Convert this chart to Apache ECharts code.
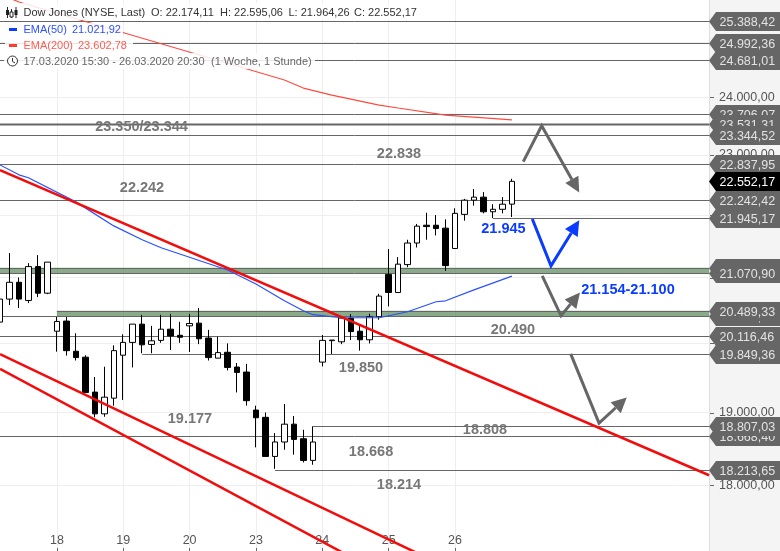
<!DOCTYPE html>
<html>
<head>
<meta charset="utf-8">
<style>
  html, body { margin: 0; padding: 0; background: #fff; }
  #c1 { width: 780px; height: 551px; }
</style>
<script src="https://cdn.jsdelivr.net/npm/echarts@6/dist/echarts.min.js"></script>
</head>
<body>
<div id="c1"></div>
<script>
// hourly candles: open, close, low, high
const candles = [
  [20318, 20667, 20250, 20700], [20667, 20926, 20576, 21384], [20926, 20667, 20530, 21000],
  [20646, 21171, 20606, 21225], [21171, 20758, 20698, 21352], [20758, 21241, 20743, 21241],
  [20181, 20327, 19877, 20394], [20333, 19892, 19819, 20394], [19883, 19790, 19747, 20150],
  [19796, 19285, 19276, 19825], [19290, 18982, 18933, 19507], [18982, 19218, 18941, 19656],
  [19204, 19892, 19097, 19970], [19825, 20014, 19179, 20135], [20014, 20287, 19646, 20287],
  [20287, 19978, 19854, 20429], [19984, 20038, 19854, 20261], [20044, 20211, 20008, 20429],
  [20211, 20109, 19902, 20444], [20120, 20090, 20008, 20322], [20261, 20296, 19873, 20444],
  [20302, 20068, 19988, 20530], [20079, 19790, 19747, 20201], [19782, 19863, 19782, 20099],
  [19868, 19646, 19603, 19999], [19652, 19574, 19285, 19710], [19579, 19168, 19097, 19699],
  [19035, 18927, 18516, 19097], [18933, 18392, 18392, 19001], [18392, 18590, 18224, 18713],
  [18590, 18837, 18484, 19121], [18837, 18626, 18416, 18951], [18635, 18338, 18310, 18759],
  [18338, 18590, 18279, 18807], [19724, 20044, 19660, 20125], [20040, 20049, 19844, 20049],
  [20023, 20378, 19988, 20403], [20378, 20175, 20049, 20439], [20181, 20053, 19892, 20277],
  [20053, 20398, 19999, 20444], [20398, 20713, 20353, 20748], [21049, 20768, 20555, 21448],
  [20768, 21209, 20768, 21320], [21202, 21544, 21161, 21596], [21544, 21815, 21473, 21851],
  [21830, 21808, 21596, 22033], [21830, 21776, 21665, 21995], [21783, 21186, 21102, 21926],
  [21457, 22023, 21448, 22106], [22006, 22239, 21904, 22261], [22239, 22289, 22149, 22423],
  [22289, 22049, 22023, 22373], [22049, 22089, 21945, 22173], [22089, 22173, 22023, 22289],
  [22174, 22552, 21964, 22595]
]
const dayNames = ['18', '19', '20', '23', '24', '25', '26']

const ema50Bars = [0, 2, 3, 8, 12, 15, 17, 24, 27, 30, 32, 33, 36, 40, 43, 46, 47, 50, 54]
const ema50Vals = [22828, 22661, 22611, 22211, 21819, 21596, 21469, 21118, 20900, 20641, 20489, 20429, 20383, 20383, 20474, 20626, 20641, 20809, 21022]
const ema200Bars = [1, 2, 16, 25, 30, 32, 35, 40, 42, 47, 54]
const ema200Vals = [25834, 25757, 25023, 24564, 24310, 24166, 24041, 23863, 23811, 23687, 23603]

// channel lines, [bar, price]
const channelTop = [[0, 22740], [74.8, 18137]]
const channelMid = [[0, 19840], [44, 17121]]
const channelLow = [[0, 19625], [36, 17136]]

// horizontal levels, later ones lie on top of earlier tags
const levelPrices = [25388.42, 24992.36, 24681.01, 23706.07, 23531.31, 23344.52, 22837.95, 22242.42, 22552.17, 21945.17, 21154.16, 21070.9, 20410.55, 20489.33, 20116.46, 19849.36, 18668.4, 18807.03, 18213.65]
const levelLabels = ['25.388,42', '24.992,36', '24.681,01', '23.706,07', '23.531,31', '23.344,52', '22.837,95', '22.242,42', '22.552,17', '21.945,17', '21.154,16', '21.070,90', '20.410,55', '20.489,33', '20.116,46', '19.849,36', '18.668,40', '18.807,03', '18.213,65']
const levelStarts = [0, 0, 0, 0, 0, 0, 0, 0, null, 52, 0, 0, 0, 6, 0, 15, 0, 33, 29]

const bandTops = [21154.16, 20489.33]
const bandBottoms = [21070.9, 20410.55]
const bandStarts = [0, 6]

const noteTexts = ['23.350/23.344', '22.838', '22.242', '21.945', '21.154-21.100', '20.490', '19.850', '19.177', '18.808', '18.668', '18.214']
const noteBars = [14.93, 42.09, 14.98, 53.11, 66.24, 54.11, 38.08, 20.04, 51.16, 39.14, 42.09]
const notePrices = [23512, 23046, 22461, 21787, 20824, 20216, 19656, 18937, 18772, 18471, 18032]
const noteBlue = [false, false, false, true, true, false, false, false, false, false, false]

const arrowPaths = [
  [[55.2, 22883], [57.14, 23500], [61.1, 22366]],
  [[56.15, 21931], [58.12, 21182], [61.1, 21910]],
  [[57.2, 21027], [59.18, 20413], [61.18, 20768]],
  [[60.2, 19844], [63.19, 18851], [66.11, 19212]]
]
const arrowBlue = [false, true, false, false]

const yTicks = [18000, 19000, 20000, 21000, 22000, 23000, 24000, 25000]
const yTickLabels = ['18.000,00', '19.000,00', '20.000,00', '21.000,00', '22.000,00', '23.000,00', '24.000,00', '25.000,00']

const GREY = '#666'
const BLUE = '#0a3cff'
const PANEL_X = 709
const FIRST_DAY_BAR = 6
const BARS_PER_DAY = 7

const categories = []
for (let i = 0; i < 76; i++) {
  const d = (i - FIRST_DAY_BAR) / BARS_PER_DAY
  categories.push(Number.isInteger(d) && dayNames[d] ? dayNames[d] : '')
}
const isDayBar = (i) => categories[i] !== ''

const chart = echarts.init(document.getElementById('c1'))

function pair(bars, vals) {
  return bars.map((b, i) => [b, vals[i]])
}

function renderBand(params, api) {
  const i = params.dataIndex
  const top = api.coord([bandStarts[i], bandTops[i]])
  const bottom = api.coord([bandStarts[i], bandBottoms[i]])
  return {
    type: 'rect',
    shape: { x: top[0], y: top[1], width: PANEL_X - top[0], height: bottom[1] - top[1] },
    style: { fill: 'rgba(60,115,60,0.6)' }
  }
}

// small scale ticks inside the right panel
function renderTick(params, api) {
  const y = Math.round(api.coord([0, yTicks[params.dataIndex]])[1]) + 0.5
  return {
    type: 'line',
    shape: { x1: PANEL_X + 1, y1: y, x2: PANEL_X + 5, y2: y },
    style: { stroke: GREY, lineWidth: 1 }
  }
}

function renderLevel(params, api) {
  const i = params.dataIndex
  const y = Math.round(api.coord([0, levelPrices[i]])[1])
  const isLast = levelStarts[i] === null
  const children = []
  if (!isLast) {
    const x0 = api.coord([levelStarts[i], levelPrices[i]])[0]
    const thick = levelPrices[i] === 23531.31
    children.push({
      type: 'line',
      shape: { x1: x0, y1: y + 0.5, x2: PANEL_X, y2: y + 0.5 },
      style: { stroke: GREY, lineWidth: thick ? 2 : 1 }
    })
  }
  // tag with its point towards the chart
  children.push({
    type: 'polygon',
    shape: { points: [[PANEL_X, y + 0.5], [716, y - 9], [780, y - 9], [780, y + 10], [716, y + 10]] },
    style: { fill: isLast ? '#000' : '#666' }
  })
  children.push({
    type: 'text',
    style: {
      text: levelLabels[i],
      x: 719.5,
      y: y + 2,
      fill: isLast ? '#fff' : '#e2e2e2',
      font: '12.5px "Liberation Sans"',
      align: 'left',
      verticalAlign: 'middle'
    }
  })
  return { type: 'group', children }
}

function renderNote(params, api) {
  const i = params.dataIndex
  const p = api.coord([noteBars[i], notePrices[i]])
  return {
    type: 'text',
    style: {
      text: noteTexts[i],
      x: p[0],
      y: p[1] + 1.5,
      fill: noteBlue[i] ? BLUE : '#777',
      font: 'bold 14.5px "Liberation Sans"',
      align: 'center',
      verticalAlign: 'middle'
    }
  }
}

function renderArrow(params, api) {
  const i = params.dataIndex
  const pts = arrowPaths[i].map((p) => api.coord(p))
  const color = arrowBlue[i] ? BLUE : GREY
  const tip = pts[pts.length - 1]
  const prev = pts[pts.length - 2]
  const len = Math.hypot(tip[0] - prev[0], tip[1] - prev[1])
  const ux = (tip[0] - prev[0]) / len
  const uy = (tip[1] - prev[1]) / len
  const headLen = 15
  const headHalf = 7.5
  const bx = tip[0] - ux * headLen
  const by = tip[1] - uy * headLen
  return {
    type: 'group',
    children: [
      {
        type: 'polyline',
        shape: { points: pts.slice(0, -1).concat([[bx, by]]) },
        style: { stroke: color, lineWidth: 3, fill: null }
      },
      {
        type: 'polygon',
        shape: { points: [tip, [bx - uy * headHalf, by + ux * headHalf], [bx + uy * headHalf, by - ux * headHalf]] },
        style: { fill: color }
      }
    ]
  }
}

function channel(data) {
  return {
    type: 'line',
    xAxisIndex: 1,
    data,
    symbol: 'none',
    silent: true,
    lineStyle: { color: '#f20d0d', width: 2.5 }
  }
}

function legendText(text, x, y, fill) {
  return {
    type: 'text',
    z: 101,
    silent: true,
    style: { text, x, y, fill, font: '11px "Liberation Sans"', align: 'left', verticalAlign: 'middle' }
  }
}

function legendCover(x, y, width, height) {
  return {
    type: 'rect',
    z: 100,
    silent: true,
    shape: { x, y, width, height },
    style: { fill: 'rgba(255,255,255,0.85)' }
  }
}

function iconRect(x, y, width, height, fill, stroke) {
  return {
    type: 'rect',
    z: 101,
    silent: true,
    shape: { x, y, width, height },
    style: { fill, stroke: stroke || null, lineWidth: 1 }
  }
}

const option = {
  animation: false,
  grid: { left: 0, top: 0, width: 711, bottom: 0, outerBoundsMode: 'none' },
  xAxis: [
    {
      type: 'category',
      data: categories,
      boundaryGap: false,
      axisLine: { show: false },
      axisTick: { inside: true, length: 3, interval: (i) => isDayBar(i), lineStyle: { color: '#666' } },
      axisLabel: {
        inside: true,
        interval: 0,
        margin: 4,
        color: '#555',
        fontFamily: 'Liberation Sans',
        fontSize: 12.5
      },
      splitLine: { show: true, interval: (i) => isDayBar(i), lineStyle: { color: '#eee' } }
    },
    { type: 'value', min: 0, max: 75, show: false, splitLine: { show: false } }
  ],
  yAxis: {
    type: 'log',
    position: 'right',
    min: 17147,
    max: 25796,
    axisLine: { show: false },
    axisTick: { show: false, customValues: yTicks },
    axisLabel: {
      customValues: yTicks,
      margin: 8,
      padding: [2, 0, 0, 0],
      color: '#555',
      fontFamily: 'Liberation Sans',
      fontSize: 12.5,
      formatter: (v) => yTickLabels[yTicks.indexOf(Math.round(v))]
    },
    splitLine: { show: true, lineStyle: { color: '#eee' } }
  },
  series: [
    {
      type: 'candlestick',
      data: candles,
      barWidth: 6,
      silent: true,
      itemStyle: { color: '#fff', color0: '#000', borderColor: '#000', borderColor0: '#000', borderWidth: 1 }
    },
    {
      type: 'line',
      data: pair(ema50Bars, ema50Vals),
      symbol: 'none',
      silent: true,
      lineStyle: { color: '#2a50ff', width: 1.2 }
    },
    {
      type: 'line',
      data: pair(ema200Bars, ema200Vals),
      symbol: 'none',
      silent: true,
      lineStyle: { color: '#ff4a40', width: 1.2 }
    },
    channel(channelTop),
    channel(channelMid),
    channel(channelLow),
    {
      type: 'custom',
      xAxisIndex: 1,
      silent: true,
      data: bandStarts.map((b, i) => [b, bandTops[i]]),
      renderItem: renderBand
    },
    {
      type: 'custom',
      xAxisIndex: 1,
      silent: true,
      clip: false,
      data: yTicks.map((v) => [0, v]),
      renderItem: renderTick
    },
    {
      type: 'custom',
      xAxisIndex: 1,
      silent: true,
      clip: false,
      data: levelPrices.map((p, i) => [levelStarts[i] || 0, p]),
      renderItem: renderLevel
    },
    {
      type: 'custom',
      xAxisIndex: 1,
      silent: true,
      data: arrowPaths.map((a) => a[0]),
      renderItem: renderArrow
    },
    {
      type: 'custom',
      xAxisIndex: 1,
      silent: true,
      data: noteBars.map((b, i) => [b, notePrices[i]]),
      renderItem: renderNote
    }
  ],
  graphic: [
    // right scale panel
    { type: 'rect', z: -1, silent: true, shape: { x: PANEL_X, y: 0, width: 71, height: 551 }, style: { fill: '#f4f4f4' } },
    { type: 'rect', z: -1, silent: true, shape: { x: PANEL_X, y: 0, width: 1, height: 551 }, style: { fill: '#ddd' } },
    // legend block
    legendCover(4, 3, 414, 17),
    legendCover(5, 23, 118, 14),
    legendCover(5, 37, 128, 16),
    legendCover(4, 53, 311, 16),
    iconRect(7, 7, 1, 11, '#222'),
    iconRect(11, 9, 1, 9, '#222'),
    iconRect(15.5, 7, 1, 11, '#222'),
    iconRect(6, 10, 3, 5, '#222'),
    iconRect(10, 12, 3, 5, '#fff', '#222'),
    iconRect(14.5, 10, 3, 5, '#222'),
    legendText('Dow Jones (NYSE, Last)', 23.5, 13, '#333'),
    legendText('O: 22.174,11', 151, 13, '#333'),
    legendText('H: 22.595,06', 220, 13, '#333'),
    legendText('L: 21.964,26', 288.5, 13, '#333'),
    legendText('C: 22.552,17', 354, 13, '#333'),
    iconRect(9, 28, 8, 3, '#0a3cff'),
    legendText('EMA(50)', 23.5, 29.5, '#2a50ff'),
    legendText('21.021,92', 72, 29.5, '#2a50ff'),
    iconRect(9, 44, 8, 3, '#ff3a30'),
    legendText('EMA(200)', 23.5, 45.5, '#ff5a50'),
    legendText('23.602,78', 78, 45.5, '#ff5a50'),
    {
      type: 'circle',
      z: 101,
      silent: true,
      shape: { cx: 12.5, cy: 61, r: 5 },
      style: { fill: '#fff', stroke: '#333', lineWidth: 1 }
    },
    {
      type: 'polyline',
      z: 102,
      silent: true,
      shape: { points: [[12.5, 58], [12.5, 61.5], [15, 63]] },
      style: { stroke: '#333', lineWidth: 1, fill: null }
    },
    legendText('17.03.2020 15:30 - 26.03.2020 20:30', 23.5, 61.5, '#666'),
    legendText('(1 Woche, 1 Stunde)', 211, 61.5, '#666')
  ]
}

chart.setOption(option)
</script>
</body>
</html>
